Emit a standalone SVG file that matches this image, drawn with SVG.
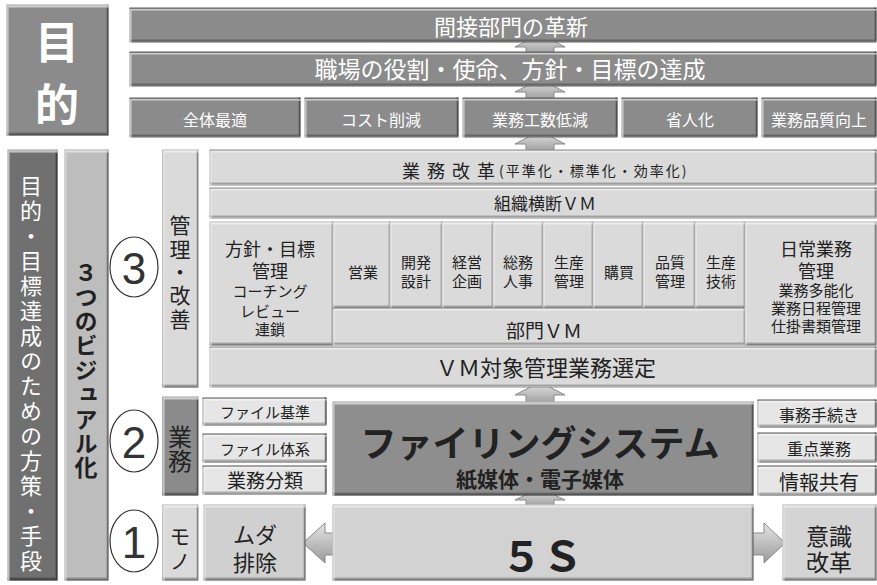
<svg xmlns="http://www.w3.org/2000/svg" width="877" height="585" viewBox="0 0 877 585">
<defs>
<filter id="bv" x="-5%" y="-5%" width="110%" height="110%">
<feFlood flood-color="#000" flood-opacity="0.5" result="k"/>
<feComposite in="k" in2="SourceAlpha" operator="out" result="o"/>
<feOffset in="o" dx="-2.5" dy="-3" result="o1"/>
<feComposite in="o1" in2="SourceAlpha" operator="in" result="sh"/>
<feFlood flood-color="#fff" flood-opacity="0.45" result="w"/>
<feComposite in="w" in2="SourceAlpha" operator="out" result="o2"/>
<feOffset in="o2" dx="2" dy="2.5" result="o3"/>
<feComposite in="o3" in2="SourceAlpha" operator="in" result="hl"/>
<feMerge><feMergeNode in="SourceGraphic"/><feMergeNode in="sh"/><feMergeNode in="hl"/></feMerge>
</filter>
<linearGradient id="ga" x1="0" y1="0" x2="0" y2="1">
<stop offset="0" stop-color="#e4e4e4"/><stop offset="1" stop-color="#9a9a9a"/>
</linearGradient>
<style>
.t{font-family:"Noto Sans CJK JP","Noto Sans",sans-serif;dominant-baseline:central;text-anchor:middle;fill:#222}
.v{font-family:"Noto Sans CJK JP","Noto Sans",sans-serif;writing-mode:vertical-rl;text-anchor:start;fill:#222}
.w{fill:#fff}
.b{font-weight:700}
.dk{fill:#8b8b8b;stroke:#5e5e5e;stroke-width:1;filter:url(#bv)}
.lt{fill:#dadada;stroke:#8c8c8c;stroke-width:1;filter:url(#bv)}
.sm{fill:#e6e6e6;stroke:#555;stroke-width:1;filter:url(#bv)}
.ar{fill:url(#ga);stroke:#8a8a8a;stroke-width:1}
.cir{fill:#fff;stroke:#333;stroke-width:1.2}
.num{font-family:"Liberation Sans",Arial,sans-serif;font-size:44px;fill:#333;text-anchor:middle;dominant-baseline:central}
</style>
</defs>
<rect width="877" height="585" fill="#fff"/>

<g id="connectors">
<polygon class="ar" points="540,34 565,47 554,47 554,56 526,56 526,47 515,47"/>
<polygon class="ar" points="540,79 565,92 554,92 554,101 526,101 526,92 515,92"/>
<polygon class="ar" points="540,131 565,144 554,144 554,153 526,153 526,144 515,144"/>
<polygon class="ar" points="540,382 565,395 554,395 554,405 526,405 526,395 515,395"/>
<polygon class="ar" points="540,488 565,500 554,500 554,508 526,508 526,500 515,500"/>
<polygon class="ar" points="303,543 325,523 325,533 340,533 340,555 325,555 325,563"/>
<polygon class="ar" points="785,543 764,523 764,533 746,533 746,555 764,555 764,563"/>
</g>

<g id="purpose"><rect class="dk" x="7" y="5" width="101" height="130"/>
<text class="t w b" font-size="44"><tspan x="57" y="40">目</tspan><tspan x="57" y="102">的</tspan></text></g>

<g id="bar-kakushin"><rect class="dk" x="130" y="8" width="746" height="34"/>
<text class="t w" x="511" y="25" font-size="22">間接部門の革新</text></g>
<g id="bar-tassei"><rect class="dk" x="130" y="52" width="746" height="34"/>
<text class="t w" x="510" y="68" font-size="23">職場の役割・使命、方針・目標の達成</text></g>

<g id="goal1"><rect class="dk" x="130" y="98" width="170" height="39"/><text class="t w" x="215" y="119" font-size="16">全体最適</text></g>
<g id="goal2"><rect class="dk" x="305" y="98" width="153" height="39"/><text class="t w" x="381" y="119" font-size="16">コスト削減</text></g>
<g id="goal3"><rect class="dk" x="463" y="98" width="154" height="39"/><text class="t w" x="540" y="119" font-size="16">業務工数低減</text></g>
<g id="goal4"><rect class="dk" x="622" y="98" width="135" height="39"/><text class="t w" x="690" y="119" font-size="16">省人化</text></g>
<g id="goal5"><rect class="dk" x="762" y="98" width="114" height="39"/><text class="t w" x="819" y="119" font-size="16">業務品質向上</text></g>

<g id="col-means"><rect x="8" y="150" width="49" height="430" fill="#707070" stroke="#444" stroke-width="1" filter="url(#bv)"/>
<text class="v w" x="31" y="175" font-size="22" letter-spacing="3">目的・目標達成のための方策・手段</text></g>

<g id="col-visual"><rect x="65" y="150" width="43" height="430" fill="#bdbdbd" stroke="#777" stroke-width="1" filter="url(#bv)"/>
<text class="v b" x="86" y="261" font-size="23" letter-spacing="1.4">３つのビジュアル化</text></g>

<g id="circle3"><ellipse class="cir" cx="134" cy="267" rx="24" ry="30"/><text class="num" x="134" y="268">3</text></g>
<g id="circle2"><ellipse class="cir" cx="134" cy="441" rx="24" ry="31"/><text class="num" x="134" y="442">2</text></g>
<g id="circle1"><ellipse class="cir" cx="134" cy="541" rx="24" ry="31"/><text class="num" x="134" y="542">1</text></g>

<g id="side-kanri"><rect class="lt" x="163" y="150" width="35" height="237"/>
<text class="v" x="180" y="215" font-size="21" letter-spacing="2.3">管理・改善</text></g>
<g id="side-gyomu"><rect class="dk" x="163" y="397" width="35" height="98"/>
<text class="v" x="180" y="425" font-size="24">業務</text></g>
<g id="side-mono"><rect class="lt" x="163" y="505" width="35" height="75"/>
<text class="v" x="180" y="526" font-size="21" letter-spacing="4">モノ</text></g>

<g id="kaikaku"><rect class="lt" x="210" y="150" width="666" height="35"/>
<text class="t" y="170" style="text-anchor:start"><tspan x="402" font-size="18" letter-spacing="7">業務改革</tspan><tspan font-size="14" dx="-3" letter-spacing="2">(平準化・標準化・効率化)</tspan></text></g>
<g id="soshiki"><rect class="lt" x="210" y="188" width="666" height="30"/>
<text class="t" x="545" y="202" font-size="17">組織横断ＶＭ</text></g>

<g id="hoshin"><rect class="lt" x="210" y="222" width="123" height="123"/>
<text class="t"><tspan x="270" y="248" font-size="18">方針・目標</tspan><tspan x="270" y="270" font-size="18">管理</tspan><tspan x="270" y="290" font-size="15">コーチング</tspan><tspan x="270" y="310" font-size="15">レビュー</tspan><tspan x="270" y="328" font-size="15">連鎖</tspan></text></g>

<g id="d1"><rect class="lt" x="333" y="222" width="57" height="86"/><text class="t" x="363" y="271" font-size="15">営業</text></g>
<g id="d2"><rect class="lt" x="390" y="222" width="52" height="86"/><text class="t" font-size="15"><tspan x="416" y="261">開発</tspan><tspan x="416" y="280">設計</tspan></text></g>
<g id="d3"><rect class="lt" x="442" y="222" width="51" height="86"/><text class="t" font-size="15"><tspan x="467" y="261">経営</tspan><tspan x="467" y="280">企画</tspan></text></g>
<g id="d4"><rect class="lt" x="493" y="222" width="50" height="86"/><text class="t" font-size="15"><tspan x="518" y="261">総務</tspan><tspan x="518" y="280">人事</tspan></text></g>
<g id="d5"><rect class="lt" x="543" y="222" width="50" height="86"/><text class="t" font-size="15"><tspan x="569" y="261">生産</tspan><tspan x="569" y="280">管理</tspan></text></g>
<g id="d6"><rect class="lt" x="593" y="222" width="50" height="86"/><text class="t" x="619" y="271" font-size="15">購買</text></g>
<g id="d7"><rect class="lt" x="643" y="222" width="52" height="86"/><text class="t" font-size="15"><tspan x="670" y="261">品質</tspan><tspan x="670" y="280">管理</tspan></text></g>
<g id="d8"><rect class="lt" x="695" y="222" width="50" height="86"/><text class="t" font-size="15"><tspan x="721" y="261">生産</tspan><tspan x="721" y="280">技術</tspan></text></g>
<g id="bumon"><rect class="lt" x="333" y="308" width="412" height="37"/><text class="t" x="544" y="329" font-size="19">部門ＶＭ</text></g>

<g id="nichijo"><rect class="lt" x="745" y="222" width="131" height="123"/>
<text class="t"><tspan x="816" y="248" font-size="18">日常業務</tspan><tspan x="816" y="270" font-size="18">管理</tspan><tspan x="816" y="289" font-size="15">業務多能化</tspan><tspan x="816" y="307" font-size="15">業務日程管理</tspan><tspan x="816" y="325" font-size="15">仕掛書類管理</tspan></text></g>

<g id="vm-sentei"><rect class="lt" x="210" y="347" width="666" height="40"/>
<text class="t" x="546" y="366" font-size="22">ＶＭ対象管理業務選定</text></g>

<g id="f1"><rect class="sm" x="203" y="398" width="123" height="27"/><text class="t" x="265" y="411" font-size="15">ファイル基準</text></g>
<g id="f2"><rect class="sm" x="203" y="434" width="123" height="28"/><text class="t" x="265" y="448" font-size="15">ファイル体系</text></g>
<g id="f3"><rect class="sm" x="203" y="466" width="123" height="28"/><text class="t" x="265" y="479" font-size="19">業務分類</text></g>

<g id="filing"><rect x="333" y="402" width="420" height="93" fill="#8e8e8e" stroke="#5e5e5e" stroke-width="1" filter="url(#bv)"/>
<text class="t b"><tspan x="540" y="441" font-size="36">ファイリングシステム</tspan><tspan x="540" y="478" font-size="21">紙媒体・電子媒体</tspan></text></g>

<g id="r1"><rect class="sm" x="758" y="400" width="118" height="27"/><text class="t" x="819" y="414" font-size="16">事務手続き</text></g>
<g id="r2"><rect class="sm" x="758" y="433" width="118" height="29"/><text class="t" x="819" y="448" font-size="16">重点業務</text></g>
<g id="r3"><rect class="sm" x="758" y="466" width="118" height="29"/><text class="t" x="819" y="481" font-size="20">情報共有</text></g>

<g id="muda"><rect class="lt" x="204" y="505" width="101" height="75" style="fill:#d0d0d0"/>
<text class="t" font-size="22"><tspan x="255" y="533">ムダ</tspan><tspan x="255" y="561">排除</tspan></text></g>
<g id="fiveS"><rect class="lt" x="333" y="505" width="420" height="75" style="fill:#d2d2d2"/>
<text class="t b" x="542" y="553" font-size="41">５Ｓ</text></g>
<g id="ishiki"><rect class="lt" x="783" y="505" width="93" height="75" style="fill:#d4d4d4"/>
<text class="t" font-size="23"><tspan x="829" y="535">意識</tspan><tspan x="829" y="561">改革</tspan></text></g>
</svg>
